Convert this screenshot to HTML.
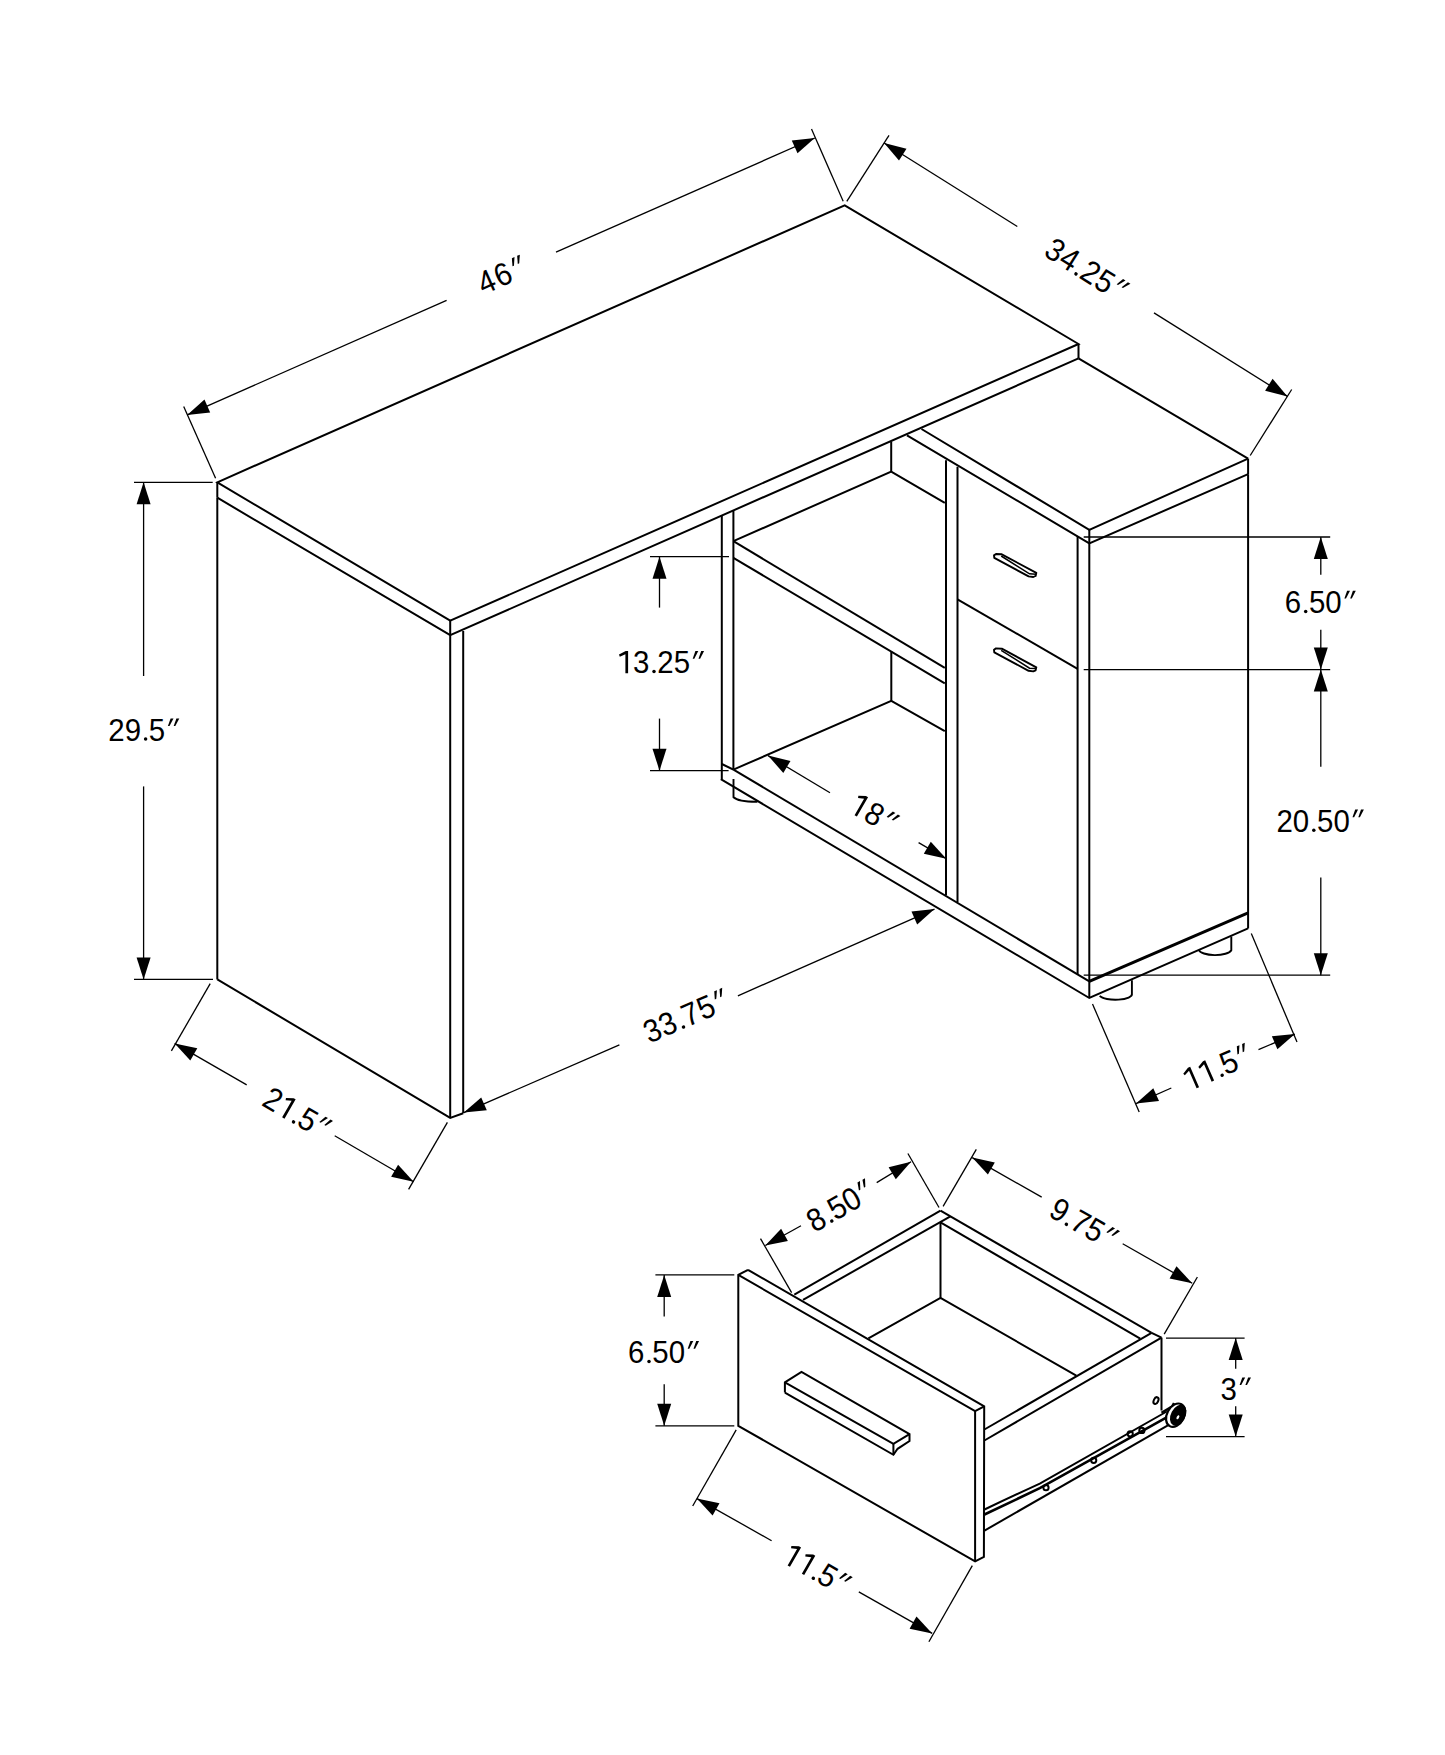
<!DOCTYPE html>
<html><head><meta charset="utf-8"><style>
html,body{margin:0;padding:0;background:#fff;}
body{width:1445px;height:1755px;overflow:hidden;}
svg{display:block;}
text{font-family:"Liberation Sans",sans-serif;font-size:32px;fill:#000;stroke:none;}
</style></head><body>
<svg width="1445" height="1755" viewBox="0 0 1445 1755" stroke="#000" stroke-linecap="butt" stroke-linejoin="miter" fill="none">
<polygon points="217.3,482.3 844.7,205.3 1078.5,344.0 450.2,620.7" stroke-width="2.0" fill="none"/>
<line x1="217.3" y1="482.3" x2="217.3" y2="497.7" stroke-width="2.0"/>
<line x1="450.2" y1="620.7" x2="450.2" y2="635.2" stroke-width="2.0"/>
<line x1="1078.5" y1="344.0" x2="1078.5" y2="358.4" stroke-width="2.0"/>
<polyline points="217.3,497.7 450.2,635.2 1078.5,358.4" stroke-width="2.0" fill="none"/>
<line x1="217.3" y1="497.7" x2="217.3" y2="979.4" stroke-width="2.0"/>
<polyline points="217.3,979.4 450.2,1117.9 463.2,1113.2" stroke-width="2.0" fill="none"/>
<line x1="450.2" y1="635.2" x2="450.2" y2="1117.9" stroke-width="2.0"/>
<line x1="463.2" y1="631.0" x2="463.2" y2="1113.2" stroke-width="2.0"/>
<line x1="1078.5" y1="358.4" x2="1248.1" y2="458.6" stroke-width="2.0"/>
<line x1="1248.1" y1="458.6" x2="1248.1" y2="474.2" stroke-width="2.0"/>
<polyline points="1248.1,458.6 1089.3,529.8 921.5,429.0" stroke-width="2.0" fill="none"/>
<polyline points="1248.1,474.2 1089.3,543.3 907.0,435.3" stroke-width="2.0" fill="none"/>
<line x1="1089.3" y1="529.8" x2="1089.3" y2="543.3" stroke-width="2.0"/>
<line x1="1248.1" y1="474.2" x2="1248.1" y2="928.4" stroke-width="2.0"/>
<line x1="946.0" y1="460.2" x2="946.0" y2="895.2" stroke-width="2.0"/>
<line x1="957.5" y1="466.8" x2="957.5" y2="902.2" stroke-width="2.0"/>
<line x1="1077.6" y1="536.0" x2="1077.6" y2="974.0" stroke-width="2.0"/>
<line x1="1089.3" y1="543.3" x2="1089.3" y2="998.0" stroke-width="2.0"/>
<line x1="957.5" y1="599.3" x2="1077.6" y2="668.9" stroke-width="2.0"/>
<polyline points="733.5,769.6 1089.3,981.4" stroke-width="2.0" fill="none"/>
<line x1="1089.3" y1="981.4" x2="1248.1" y2="912.9" stroke-width="3.0"/>
<polyline points="720.8,779.1 1089.3,998.0 1248.1,928.4" stroke-width="2.0" fill="none"/>
<line x1="721.8" y1="516.0" x2="721.8" y2="779.1" stroke-width="2.0"/>
<line x1="733.4" y1="511.0" x2="733.4" y2="769.6" stroke-width="2.0"/>
<line x1="721.8" y1="764.0" x2="733.4" y2="769.6" stroke-width="2.0"/>
<polyline points="733.4,541.2 944.8,667.8" stroke-width="2.0" fill="none"/>
<polyline points="733.4,557.8 944.8,683.4" stroke-width="2.0" fill="none"/>
<polyline points="733.4,541.2 891.2,471.6 944.8,502.8" stroke-width="2.0" fill="none"/>
<line x1="891.2" y1="441.7" x2="891.2" y2="471.6" stroke-width="2.0"/>
<polyline points="733.4,769.6 891.3,700.9 944.8,731.2" stroke-width="2.0" fill="none"/>
<line x1="891.3" y1="651.5" x2="891.3" y2="700.9" stroke-width="2.0"/>
<path d="M733.5,779 V797.2 A24,6 0 0 0 757.4,801.7" fill="none" stroke-width="1.9"/>
<path d="M1131.9,980.3 V993.8 A16.5,5.5 0 0 1 1099.7,995.9" fill="none" stroke-width="1.9"/>
<path d="M1231.3,936.5 V950.2 A16.5,6 0 0 1 1198.7,949.8" fill="none" stroke-width="1.9"/>
<path d="M994.0,555.4 L996.0,554.0 L1001.8,554.3 L1036.3,572.9 L1035.6,576.0 L1033.3,577.0 L1028.6,576.4 L994.3,557.9 Z" fill="none" stroke-width="1.9" stroke-linejoin="round"/>
<path d="M1001.2,556.0 L1029.5,573.8 L1036,574.2" fill="none" stroke-width="1.5"/>
<path d="M994.0,649.8 L996.0,648.4 L1001.8,648.7 L1036.3,667.3 L1035.6,670.4 L1033.3,671.4 L1028.6,670.8 L994.3,652.3 Z" fill="none" stroke-width="1.9" stroke-linejoin="round"/>
<path d="M1001.2,650.4 L1029.5,668.2 L1036,668.6" fill="none" stroke-width="1.5"/>
<line x1="183.7" y1="406.6" x2="215.6" y2="478.2" stroke-width="1.3"/>
<line x1="811.5" y1="129.0" x2="843.2" y2="201.3" stroke-width="1.3"/>
<line x1="187.2" y1="414.9" x2="446.6" y2="300.4" stroke-width="1.3"/>
<polygon points="187.2,414.9 210.2,412.4 204.5,399.6" fill="#000" stroke="none"/>
<line x1="814.8" y1="138.0" x2="556.0" y2="252.2" stroke-width="1.3"/>
<polygon points="814.8,138.0 791.8,140.5 797.5,153.3" fill="#000" stroke="none"/>
<g transform="translate(484.14,294.73) rotate(-23.80)"><text transform="translate(-0.65,0) scale(0.92,1)">4</text><text transform="translate(17.06,0) scale(0.92,1)">6</text><polygon points="40.12,-22.30 43.02,-22.30 39.02,-14.60 37.42,-14.60" fill="#000" stroke="none"/><polygon points="45.92,-22.30 48.82,-22.30 44.82,-14.60 43.22,-14.60" fill="#000" stroke="none"/></g>
<line x1="889.0" y1="135.3" x2="846.8" y2="201.3" stroke-width="1.3"/>
<line x1="1291.7" y1="389.5" x2="1250.2" y2="455.5" stroke-width="1.3"/>
<line x1="884.1" y1="143.0" x2="1017.3" y2="226.5" stroke-width="1.3"/>
<polygon points="884.1,143.0 899.0,160.6 906.5,148.8" fill="#000" stroke="none"/>
<line x1="1287.5" y1="396.4" x2="1154.0" y2="312.9" stroke-width="1.3"/>
<polygon points="1287.5,396.4 1272.6,378.8 1265.1,390.7" fill="#000" stroke="none"/>
<g transform="translate(1043.13,255.42) rotate(32.00)"><text transform="translate(-0.65,0) scale(0.92,1)">3</text><text transform="translate(16.24,0) scale(0.92,1)">4</text><circle cx="37.68" cy="-1.7" r="1.75" fill="#000" stroke="none"/><text transform="translate(41.17,0) scale(0.92,1)">2</text><text transform="translate(58.06,0) scale(0.92,1)">5</text><polygon points="80.30,-22.30 83.20,-22.30 79.20,-14.60 77.60,-14.60" fill="#000" stroke="none"/><polygon points="86.10,-22.30 89.00,-22.30 85.00,-14.60 83.40,-14.60" fill="#000" stroke="none"/></g>
<line x1="134.0" y1="482.3" x2="212.7" y2="482.3" stroke-width="1.3"/>
<line x1="134.0" y1="979.4" x2="213.0" y2="979.4" stroke-width="1.3"/>
<line x1="143.6" y1="482.3" x2="143.6" y2="676.0" stroke-width="1.3"/>
<polygon points="143.6,482.3 136.6,504.3 150.6,504.3" fill="#000" stroke="none"/>
<line x1="143.6" y1="979.4" x2="143.6" y2="786.4" stroke-width="1.3"/>
<polygon points="143.6,979.4 150.6,957.4 136.6,957.4" fill="#000" stroke="none"/>
<g transform="translate(108.90,740.70) rotate(0.00)"><text transform="translate(-0.65,0) scale(0.92,1)">2</text><text transform="translate(15.75,0) scale(0.92,1)">9</text><circle cx="36.70" cy="-1.7" r="1.75" fill="#000" stroke="none"/><text transform="translate(39.95,0) scale(0.92,1)">5</text><polygon points="61.70,-22.30 64.60,-22.30 60.60,-14.60 59.00,-14.60" fill="#000" stroke="none"/><polygon points="67.50,-22.30 70.40,-22.30 66.40,-14.60 64.80,-14.60" fill="#000" stroke="none"/></g>
<line x1="650.0" y1="556.7" x2="729.0" y2="556.7" stroke-width="1.3"/>
<line x1="650.0" y1="770.7" x2="728.6" y2="770.7" stroke-width="1.3"/>
<line x1="659.5" y1="556.7" x2="659.5" y2="607.6" stroke-width="1.3"/>
<polygon points="659.5,556.7 652.5,578.7 666.5,578.7" fill="#000" stroke="none"/>
<line x1="659.5" y1="770.7" x2="659.5" y2="718.6" stroke-width="1.3"/>
<polygon points="659.5,770.7 666.5,748.7 652.5,748.7" fill="#000" stroke="none"/>
<g transform="translate(617.30,673.30) rotate(0.00)"><polygon points="10.80,0.00 8.10,0.00 8.10,-19.00 2.50,-16.60 1.70,-18.70 8.40,-22.30 10.80,-22.30" fill="#000" stroke="none"/><text transform="translate(15.75,0) scale(0.92,1)">3</text><circle cx="36.70" cy="-1.7" r="1.75" fill="#000" stroke="none"/><text transform="translate(39.95,0) scale(0.92,1)">2</text><text transform="translate(56.35,0) scale(0.92,1)">5</text><polygon points="78.10,-22.30 81.00,-22.30 77.00,-14.60 75.40,-14.60" fill="#000" stroke="none"/><polygon points="83.90,-22.30 86.80,-22.30 82.80,-14.60 81.20,-14.60" fill="#000" stroke="none"/></g>
<line x1="1083.7" y1="537.0" x2="1330.2" y2="537.0" stroke-width="1.3"/>
<line x1="1083.7" y1="669.6" x2="1330.2" y2="669.6" stroke-width="1.3"/>
<line x1="1083.7" y1="975.2" x2="1330.2" y2="975.2" stroke-width="1.3"/>
<line x1="1320.8" y1="537.0" x2="1320.8" y2="574.7" stroke-width="1.3"/>
<polygon points="1320.8,537.0 1313.8,559.0 1327.8,559.0" fill="#000" stroke="none"/>
<line x1="1320.8" y1="669.6" x2="1320.8" y2="629.8" stroke-width="1.3"/>
<polygon points="1320.8,669.6 1327.8,647.6 1313.8,647.6" fill="#000" stroke="none"/>
<line x1="1320.8" y1="669.6" x2="1320.8" y2="766.8" stroke-width="1.3"/>
<polygon points="1320.8,669.6 1313.8,691.6 1327.8,691.6" fill="#000" stroke="none"/>
<line x1="1320.8" y1="975.2" x2="1320.8" y2="877.6" stroke-width="1.3"/>
<polygon points="1320.8,975.2 1327.8,953.2 1313.8,953.2" fill="#000" stroke="none"/>
<g transform="translate(1285.40,613.10) rotate(0.00)"><text transform="translate(-0.65,0) scale(0.92,1)">6</text><circle cx="20.30" cy="-1.7" r="1.75" fill="#000" stroke="none"/><text transform="translate(23.55,0) scale(0.92,1)">5</text><text transform="translate(39.95,0) scale(0.92,1)">0</text><polygon points="61.70,-22.30 64.60,-22.30 60.60,-14.60 59.00,-14.60" fill="#000" stroke="none"/><polygon points="67.50,-22.30 70.40,-22.30 66.40,-14.60 64.80,-14.60" fill="#000" stroke="none"/></g>
<g transform="translate(1277.10,831.90) rotate(0.00)"><text transform="translate(-0.65,0) scale(0.92,1)">2</text><text transform="translate(15.75,0) scale(0.92,1)">0</text><circle cx="36.70" cy="-1.7" r="1.75" fill="#000" stroke="none"/><text transform="translate(39.95,0) scale(0.92,1)">5</text><text transform="translate(56.35,0) scale(0.92,1)">0</text><polygon points="78.10,-22.30 81.00,-22.30 77.00,-14.60 75.40,-14.60" fill="#000" stroke="none"/><polygon points="83.90,-22.30 86.80,-22.30 82.80,-14.60 81.20,-14.60" fill="#000" stroke="none"/></g>
<line x1="768.0" y1="755.6" x2="830.0" y2="792.8" stroke-width="1.3"/>
<polygon points="768.0,755.6 783.3,772.9 790.5,760.9" fill="#000" stroke="none"/>
<line x1="946.3" y1="858.8" x2="918.6" y2="842.6" stroke-width="1.3"/>
<polygon points="946.3,858.8 930.8,841.7 923.8,853.7" fill="#000" stroke="none"/>
<g transform="translate(847.55,811.13) rotate(30.00)"><polygon points="10.80,0.00 8.10,0.00 8.10,-19.00 2.50,-16.60 1.70,-18.70 8.40,-22.30 10.80,-22.30" fill="#000" stroke="none"/><text transform="translate(16.73,0) scale(0.92,1)">8</text><polygon points="39.47,-22.30 42.37,-22.30 38.37,-14.60 36.77,-14.60" fill="#000" stroke="none"/><polygon points="45.27,-22.30 48.17,-22.30 44.17,-14.60 42.57,-14.60" fill="#000" stroke="none"/></g>
<line x1="463.8" y1="1112.6" x2="619.4" y2="1044.8" stroke-width="1.3"/>
<polygon points="463.8,1112.6 486.8,1110.2 481.2,1097.4" fill="#000" stroke="none"/>
<line x1="934.5" y1="909.1" x2="737.9" y2="995.8" stroke-width="1.3"/>
<polygon points="934.5,909.1 911.5,911.6 917.2,924.4" fill="#000" stroke="none"/>
<g transform="translate(649.74,1043.52) rotate(-23.40)"><text transform="translate(-0.65,0) scale(0.92,1)">3</text><text transform="translate(16.16,0) scale(0.92,1)">3</text><circle cx="37.52" cy="-1.7" r="1.75" fill="#000" stroke="none"/><text transform="translate(40.96,0) scale(0.92,1)">7</text><text transform="translate(57.77,0) scale(0.92,1)">5</text><polygon points="79.94,-22.30 82.84,-22.30 78.84,-14.60 77.23,-14.60" fill="#000" stroke="none"/><polygon points="85.73,-22.30 88.64,-22.30 84.64,-14.60 83.03,-14.60" fill="#000" stroke="none"/></g>
<line x1="210.2" y1="983.6" x2="171.4" y2="1050.9" stroke-width="1.3"/>
<line x1="447.4" y1="1122.3" x2="408.6" y2="1189.3" stroke-width="1.3"/>
<line x1="174.7" y1="1043.4" x2="246.7" y2="1084.9" stroke-width="1.3"/>
<polygon points="174.7,1043.4 190.3,1060.5 197.3,1048.3" fill="#000" stroke="none"/>
<line x1="413.6" y1="1181.8" x2="334.7" y2="1135.8" stroke-width="1.3"/>
<polygon points="413.6,1181.8 398.1,1164.7 391.1,1176.8" fill="#000" stroke="none"/>
<g transform="translate(260.94,1105.01) rotate(30.10)"><text transform="translate(-0.65,0) scale(0.92,1)">2</text><polygon points="27.20,0.00 24.50,0.00 24.50,-19.00 18.90,-16.60 18.10,-18.70 24.80,-22.30 27.20,-22.30" fill="#000" stroke="none"/><circle cx="36.70" cy="-1.7" r="1.75" fill="#000" stroke="none"/><text transform="translate(39.95,0) scale(0.92,1)">5</text><polygon points="61.70,-22.30 64.60,-22.30 60.60,-14.60 59.00,-14.60" fill="#000" stroke="none"/><polygon points="67.50,-22.30 70.40,-22.30 66.40,-14.60 64.80,-14.60" fill="#000" stroke="none"/></g>
<line x1="1092.5" y1="1004.0" x2="1139.2" y2="1112.0" stroke-width="1.3"/>
<line x1="1251.3" y1="933.6" x2="1297.0" y2="1042.0" stroke-width="1.3"/>
<line x1="1136.0" y1="1103.6" x2="1171.3" y2="1088.0" stroke-width="1.3"/>
<polygon points="1136.0,1103.6 1159.0,1101.1 1153.3,1088.3" fill="#000" stroke="none"/>
<line x1="1294.9" y1="1034.1" x2="1258.5" y2="1049.7" stroke-width="1.3"/>
<polygon points="1294.9,1034.1 1271.9,1036.3 1277.4,1049.2" fill="#000" stroke="none"/>
<g transform="translate(1189.19,1091.49) rotate(-23.60)"><polygon points="10.80,0.00 8.10,0.00 8.10,-19.00 2.50,-16.60 1.70,-18.70 8.40,-22.30 10.80,-22.30" fill="#000" stroke="none"/><polygon points="27.20,0.00 24.50,0.00 24.50,-19.00 18.90,-16.60 18.10,-18.70 24.80,-22.30 27.20,-22.30" fill="#000" stroke="none"/><circle cx="36.70" cy="-1.7" r="1.75" fill="#000" stroke="none"/><text transform="translate(39.95,0) scale(0.92,1)">5</text><polygon points="61.70,-22.30 64.60,-22.30 60.60,-14.60 59.00,-14.60" fill="#000" stroke="none"/><polygon points="67.50,-22.30 70.40,-22.30 66.40,-14.60 64.80,-14.60" fill="#000" stroke="none"/></g>
<polyline points="748.0,1269.8 738.3,1274.9 738.3,1425.8 975.1,1561.4 983.9,1556.9 984.2,1406.4 748.0,1269.8" stroke-width="2.0" fill="none"/>
<polyline points="738.3,1274.9 975.1,1411.2 984.2,1406.4" stroke-width="2.0" fill="none"/>
<line x1="975.1" y1="1411.2" x2="975.1" y2="1561.4" stroke-width="2.0"/>
<line x1="794.3" y1="1294.7" x2="940.5" y2="1210.6" stroke-width="2.0"/>
<line x1="803.0" y1="1299.9" x2="950.4" y2="1216.4" stroke-width="2.0"/>
<line x1="940.5" y1="1210.6" x2="1151.6" y2="1332.9" stroke-width="2.0"/>
<line x1="940.5" y1="1222.4" x2="1140.2" y2="1338.6" stroke-width="2.0"/>
<line x1="940.5" y1="1222.4" x2="940.5" y2="1297.8" stroke-width="2.0"/>
<polyline points="868.4,1338.3 940.5,1297.8 1076.3,1375.6" stroke-width="2.0" fill="none"/>
<line x1="1151.6" y1="1332.9" x2="1161.5" y2="1337.7" stroke-width="2.0"/>
<line x1="1151.6" y1="1332.9" x2="984.4" y2="1429.5" stroke-width="2.0"/>
<line x1="1161.5" y1="1337.7" x2="984.4" y2="1440.5" stroke-width="2.0"/>
<line x1="1161.5" y1="1337.6" x2="1161.5" y2="1410.5" stroke-width="2.0"/>
<polyline points="784.9,1392.6 784.9,1382.3 801.5,1371.8 909.5,1434.1 909.5,1441.0 897.6,1448.8 893.4,1454.8 784.9,1392.6" stroke-width="2.0" fill="none"/>
<polyline points="784.9,1382.3 893.4,1443.8 909.5,1434.1" stroke-width="2.0" fill="none"/>
<line x1="893.4" y1="1443.8" x2="893.4" y2="1454.8" stroke-width="2.0"/>
<path d="M984.5,1509.5 Q1015,1495 1039.8,1483.6 L1166.8,1411.5" fill="none" stroke-width="2.0"/>
<path d="M984.5,1514.5 Q1015,1500 1039.8,1488.2 L1168,1416.6" fill="none" stroke-width="2.6"/>
<path d="M984.5,1530.6 L1170.9,1423.6" fill="none" stroke-width="2.0"/>
<path d="M1161.5,1412.8 L1172,1406.5 L1174,1403" fill="none" stroke-width="2.4"/>
<ellipse cx="1175.6" cy="1415.2" rx="8.6" ry="12.4" transform="rotate(28 1175.6 1415.2)" fill="#fff" stroke-width="2.2"/>
<ellipse cx="1178.2" cy="1415.2" rx="7.2" ry="11.2" transform="rotate(28 1178.2 1415.2)" fill="#000" stroke="none"/>
<ellipse cx="1177.9" cy="1417.2" rx="1.2" ry="2.2" transform="rotate(28 1177.9 1417.2)" fill="#fff" stroke="none"/>
<circle cx="1046" cy="1487.7" r="2.6" fill="none" stroke-width="2.0"/>
<circle cx="1093.7" cy="1460.3" r="2.6" fill="none" stroke-width="2.0"/>
<circle cx="1130.2" cy="1433.8" r="2.6" fill="none" stroke-width="2.0"/>
<circle cx="1141.9" cy="1430.4" r="2.6" fill="none" stroke-width="2.0"/>
<ellipse cx="1156" cy="1400.6" rx="2.2" ry="3.6" transform="rotate(25 1156 1400.6)" fill="none" stroke-width="2.0"/>
<line x1="760.5" y1="1238.6" x2="791.6" y2="1292.6" stroke-width="1.3"/>
<line x1="907.9" y1="1153.5" x2="939.0" y2="1207.5" stroke-width="1.3"/>
<line x1="765.3" y1="1245.5" x2="801.0" y2="1225.7" stroke-width="1.3"/>
<polygon points="765.3,1245.5 787.9,1241.0 781.1,1228.7" fill="#000" stroke="none"/>
<line x1="911.0" y1="1161.8" x2="876.7" y2="1182.6" stroke-width="1.3"/>
<polygon points="911.0,1161.8 888.6,1167.2 895.8,1179.2" fill="#000" stroke="none"/>
<g transform="translate(815.08,1232.63) rotate(-29.90)"><text transform="translate(-0.65,0) scale(0.92,1)">8</text><circle cx="20.30" cy="-1.7" r="1.75" fill="#000" stroke="none"/><text transform="translate(23.55,0) scale(0.92,1)">5</text><text transform="translate(39.95,0) scale(0.92,1)">0</text><polygon points="61.70,-22.30 64.60,-22.30 60.60,-14.60 59.00,-14.60" fill="#000" stroke="none"/><polygon points="67.50,-22.30 70.40,-22.30 66.40,-14.60 64.80,-14.60" fill="#000" stroke="none"/></g>
<line x1="976.3" y1="1149.3" x2="943.1" y2="1206.4" stroke-width="1.3"/>
<line x1="1197.4" y1="1277.0" x2="1164.2" y2="1334.1" stroke-width="1.3"/>
<line x1="972.2" y1="1157.6" x2="1041.7" y2="1197.1" stroke-width="1.3"/>
<polygon points="972.2,1157.6 987.9,1174.6 994.8,1162.4" fill="#000" stroke="none"/>
<line x1="1192.2" y1="1283.3" x2="1122.7" y2="1243.8" stroke-width="1.3"/>
<polygon points="1192.2,1283.3 1176.5,1266.3 1169.6,1278.5" fill="#000" stroke="none"/>
<g transform="translate(1047.88,1215.76) rotate(29.70)"><text transform="translate(-0.65,0) scale(0.92,1)">9</text><circle cx="20.30" cy="-1.7" r="1.75" fill="#000" stroke="none"/><text transform="translate(23.55,0) scale(0.92,1)">7</text><text transform="translate(39.95,0) scale(0.92,1)">5</text><polygon points="61.70,-22.30 64.60,-22.30 60.60,-14.60 59.00,-14.60" fill="#000" stroke="none"/><polygon points="67.50,-22.30 70.40,-22.30 66.40,-14.60 64.80,-14.60" fill="#000" stroke="none"/></g>
<line x1="1166.0" y1="1338.1" x2="1244.6" y2="1338.1" stroke-width="1.3"/>
<line x1="1166.0" y1="1436.6" x2="1244.6" y2="1436.6" stroke-width="1.3"/>
<line x1="1235.7" y1="1338.1" x2="1235.7" y2="1368.7" stroke-width="1.3"/>
<polygon points="1235.7,1338.1 1228.7,1360.1 1242.7,1360.1" fill="#000" stroke="none"/>
<line x1="1235.7" y1="1436.6" x2="1235.7" y2="1406.3" stroke-width="1.3"/>
<polygon points="1235.7,1436.6 1242.7,1414.6 1228.7,1414.6" fill="#000" stroke="none"/>
<g transform="translate(1221.20,1399.70) rotate(0.00)"><text transform="translate(-0.65,0) scale(0.92,1)">3</text><polygon points="21.10,-22.30 24.00,-22.30 20.00,-14.60 18.40,-14.60" fill="#000" stroke="none"/><polygon points="26.90,-22.30 29.80,-22.30 25.80,-14.60 24.20,-14.60" fill="#000" stroke="none"/></g>
<line x1="655.4" y1="1274.9" x2="734.3" y2="1274.9" stroke-width="1.3"/>
<line x1="655.4" y1="1425.8" x2="734.3" y2="1425.8" stroke-width="1.3"/>
<line x1="664.2" y1="1274.9" x2="664.2" y2="1316.4" stroke-width="1.3"/>
<polygon points="664.2,1274.9 657.2,1296.9 671.2,1296.9" fill="#000" stroke="none"/>
<line x1="664.2" y1="1425.8" x2="664.2" y2="1384.3" stroke-width="1.3"/>
<polygon points="664.2,1425.8 671.2,1403.8 657.2,1403.8" fill="#000" stroke="none"/>
<g transform="translate(628.70,1363.30) rotate(0.00)"><text transform="translate(-0.65,0) scale(0.92,1)">6</text><circle cx="20.30" cy="-1.7" r="1.75" fill="#000" stroke="none"/><text transform="translate(23.55,0) scale(0.92,1)">5</text><text transform="translate(39.95,0) scale(0.92,1)">0</text><polygon points="61.70,-22.30 64.60,-22.30 60.60,-14.60 59.00,-14.60" fill="#000" stroke="none"/><polygon points="67.50,-22.30 70.40,-22.30 66.40,-14.60 64.80,-14.60" fill="#000" stroke="none"/></g>
<line x1="736.2" y1="1429.9" x2="692.7" y2="1506.0" stroke-width="1.3"/>
<line x1="972.3" y1="1565.6" x2="928.9" y2="1641.7" stroke-width="1.3"/>
<line x1="696.9" y1="1498.6" x2="771.6" y2="1540.7" stroke-width="1.3"/>
<polygon points="696.9,1498.6 712.6,1515.5 719.5,1503.3" fill="#000" stroke="none"/>
<line x1="932.2" y1="1633.4" x2="858.8" y2="1591.9" stroke-width="1.3"/>
<polygon points="932.2,1633.4 916.5,1616.5 909.6,1628.7" fill="#000" stroke="none"/>
<g transform="translate(780.60,1561.50) rotate(29.80)"><polygon points="10.80,0.00 8.10,0.00 8.10,-19.00 2.50,-16.60 1.70,-18.70 8.40,-22.30 10.80,-22.30" fill="#000" stroke="none"/><polygon points="27.20,0.00 24.50,0.00 24.50,-19.00 18.90,-16.60 18.10,-18.70 24.80,-22.30 27.20,-22.30" fill="#000" stroke="none"/><circle cx="36.70" cy="-1.7" r="1.75" fill="#000" stroke="none"/><text transform="translate(39.95,0) scale(0.92,1)">5</text><polygon points="61.70,-22.30 64.60,-22.30 60.60,-14.60 59.00,-14.60" fill="#000" stroke="none"/><polygon points="67.50,-22.30 70.40,-22.30 66.40,-14.60 64.80,-14.60" fill="#000" stroke="none"/></g>
</svg>
</body></html>
